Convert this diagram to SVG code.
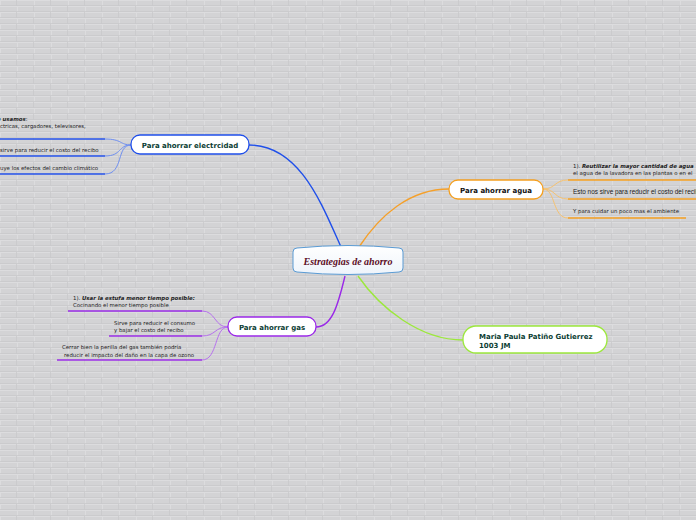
<svg xmlns="http://www.w3.org/2000/svg" width="696" height="520" viewBox="0 0 696 520">
<style>
.lbl{font-family:"DejaVu Sans",Verdana,sans-serif;font-weight:bold;font-size:7px;fill:#0b3d33}
.sm{font-family:"DejaVu Sans",Verdana,sans-serif;font-size:5.4px;fill:#222}
.bi{font-weight:bold;font-style:italic}
.node{fill:#fff;stroke-width:1.3}
.thin{fill:none;stroke-width:1}
.under{fill:none;stroke-width:1.6}
.main{fill:none;stroke-width:1.4}
</style>
<defs>
<pattern id="brick" width="34" height="12" patternUnits="userSpaceOnUse">
<rect width="34" height="12" fill="#d3d3d5"/>
<path d="M0,0.5H34M0,6.5H34M0.5,0V6M17.5,6V12" stroke="#dcdcde" stroke-width="1" fill="none"/>
<path d="M0,5.5H34M0,11.5H34M16.5,0V6M33.5,6V12" stroke="#c9c9cb" stroke-width="0.8" fill="none"/>
</pattern>
<linearGradient id="cg" x1="0" y1="0" x2="0" y2="1">
<stop offset="0" stop-color="#ffffff"/>
<stop offset="1" stop-color="#eef4fb"/>
</linearGradient>
</defs>
<rect width="696" height="520" fill="url(#brick)"/>

<g id="connectors">
<path class="main" stroke="#1f4fea" d="M341,247 C322,205 300,145 249,145"/>
<path class="main" stroke="#f5a02a" d="M359,247 C380,215 410,189 449,189"/>
<path class="main" stroke="#9a28e8" d="M345,276 C338,305 332,327 316,327"/>
<path class="main" stroke="#9ce83c" d="M358,276 C380,308 420,340 463,340"/>

<path class="thin" stroke="#6f8ff0" d="M131,145 C120,145 122,139 105,139 M131,145 C118,145 122,156 105,156 M131,145 C116,145 124,174 105,174"/>
<path class="under" stroke="#2452ea" d="M0,139H105M0,156H105M0,174H105"/>

<path class="thin" stroke="#f6c270" d="M543,189 C556,189 554,180 568,180 M543,189 C556,189 554,199 568,199 M543,189 C556,189 552,218 568,218"/>
<path class="under" stroke="#f5a020" d="M568,180H696M568,199H696M568,218H686"/>

<path class="thin" stroke="#b772ee" d="M228,327 C214,327 216,311 202,311 M228,327 C214,327 216,336 202,336 M228,327 C214,327 218,360 202,360"/>
<path class="under" stroke="#9a2ee6" d="M68,311H202M109,336H202M57,360H202"/>
</g>

<g id="central">
<path d="M297,248 Q348,243 399,248 Q403,248 403,252 L403,268 Q403,272 399,272 Q348,277 297,272 Q293,272 293,268 L293,252 Q293,248 297,248 Z" fill="url(#cg)" stroke="#5a9bd4" stroke-width="1"/>
<text x="348" y="264.5" text-anchor="middle" font-family="'Liberation Serif','Times New Roman',serif" font-weight="bold" font-style="italic" font-size="10px" fill="#5b0d26">Estrategias de ahorro</text>
</g>

<g id="electricidad">
<rect class="node" x="131" y="135" width="118" height="19" rx="9" stroke="#1f4fea"/>
<text class="lbl" x="190" y="147.5" text-anchor="middle">Para ahorrar electrcidad</text>
<text class="sm" x="-3" y="121"><tspan class="bi">e usamos</tspan>:</text>
<text class="sm" x="0" y="128">ctricas, cargadores, televisores,</text>
<text class="sm" x="0" y="152">sirve para reducir el costo del recibo</text>
<text class="sm" x="0" y="170">uye los efectos del cambio climático</text>
</g>

<g id="agua">
<rect class="node" x="449" y="180" width="94" height="19" rx="9" stroke="#f5a020"/>
<text class="lbl" x="496" y="192.5" text-anchor="middle" style="fill:#111">Para ahorrar agua</text>
<text class="sm" x="573" y="168">1). <tspan class="bi">Reutilizar la mayor cantidad de agua</tspan></text>
<text class="sm" x="573" y="175">el agua de la lavadora en las plantas o en el</text>
<text x="573" y="194" font-family="'Liberation Sans Narrow','Liberation Sans',Arial,sans-serif" font-size="7px" fill="#222" textLength="126" lengthAdjust="spacingAndGlyphs">Esto nos sirve para reducir el costo del recib</text>
<text class="sm" x="573" y="213">Y para cuidar un poco mas el ambiente</text>
</g>

<g id="gas">
<rect class="node" x="228" y="317" width="88" height="19" rx="9" stroke="#9a28e8"/>
<text class="lbl" x="272" y="329.5" text-anchor="middle">Para ahorrar gas</text>
<text class="sm" x="73" y="300">1). <tspan class="bi">Usar la estufa menor tiempo posible:</tspan></text>
<text class="sm" x="73" y="307">Cocinando el menor tiempo posible</text>
<text class="sm" x="114" y="325">Sirve para reducir el consumo</text>
<text class="sm" x="114" y="332">y bajar el costo del recibo</text>
<text class="sm" x="62" y="349">Cerrar bien la perilla del gas también podría</text>
<text class="sm" x="64" y="357">reducir el impacto del daño en la capa de ozono</text>
</g>

<g id="autor">
<rect class="node" x="463" y="326" width="144" height="27" rx="13" stroke="#9ce83c"/>
<text class="lbl" x="479" y="338.5">Maria Paula Patiño Gutierrez</text>
<text class="lbl" x="479" y="347.5">1003 JM</text>
</g>
</svg>
